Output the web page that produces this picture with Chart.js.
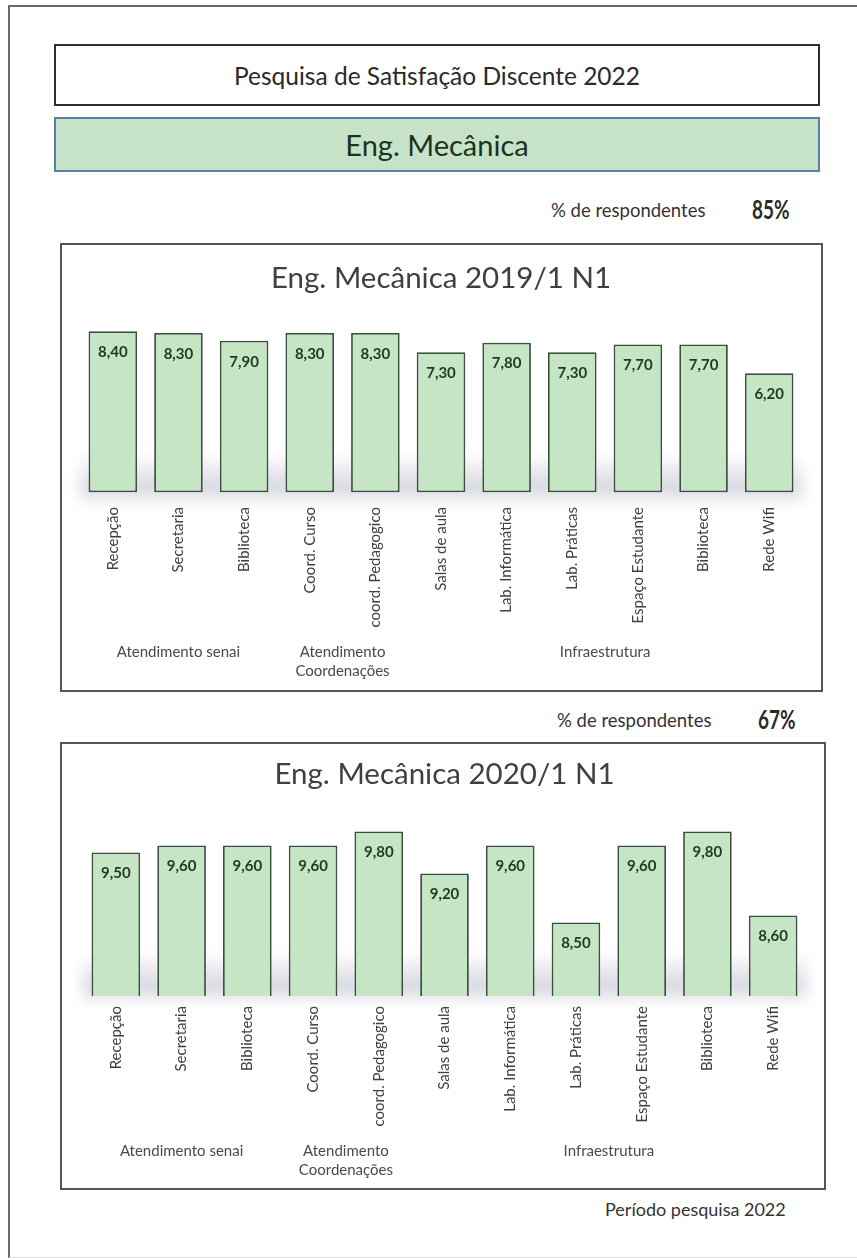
<!DOCTYPE html>
<html lang="pt-BR">
<head>
<meta charset="utf-8">
<title>Pesquisa de Satisfação Discente 2022</title>
<script src="https://cdn.jsdelivr.net/npm/chart.js@4.4.1/dist/chart.umd.min.js"></script>
<style>
  html, body { margin: 0; padding: 0; background: #fff; }
  body {
    width: 857px; height: 1260px; position: relative; overflow: hidden;
    font-family: Lato, "Open Sans", sans-serif; color: #333;
  }
  .page {
    position: absolute; left: 8px; top: 5px; width: 900px; height: 1250px;
    border-left: 2px solid #6a6a6a; border-top: 2px solid #6a6a6a;
    border-bottom: 1px solid #e4e4e4;
  }
  .box { position: absolute; box-sizing: border-box; display: flex; align-items: center; justify-content: center; }
  #head { left: 54px; top: 44px; width: 766px; height: 62px; border: 2px solid #2e2e2e; font-size: 24.5px; color: #2a2a2a; }
  #course { left: 54px; top: 117px; width: 766px; height: 55px; border: 2px solid #5d7fa6; background: #c6e3c9; font-size: 29px; color: #1d331d; }
  .resp { position: absolute; font-size: 18.5px; color: #333; line-height: 20px; }
  .pct {
    position: absolute; font-size: 27px; font-weight: bold; color: #2a2a2a; line-height: 28px;
    transform: scaleX(0.7); transform-origin: left center;
  }
  .chartbox { position: absolute; left: 60px; box-sizing: border-box; border: 2px solid #555; background: #fff; }
  .chartbox canvas { display: block; }
  #box1 { top: 243px; width: 763px; height: 449px; }
  #box2 { top: 742px; width: 766px; height: 448px; }
  #period { position: absolute; left: 605px; top: 1198px; font-size: 18px; color: #333; line-height: 22px; }
</style>
</head>
<body>
<div class="page"></div>
<div class="box" id="head">Pesquisa de Satisfação Discente 2022</div>
<div class="box" id="course">Eng. Mecânica</div>

<div class="resp" style="left:551px; top:200px;">% de respondentes</div>
<div class="pct" style="left:752px; top:195px;">85%</div>

<div class="chartbox" id="box1"><canvas id="chart2019" width="759" height="445"></canvas></div>

<div class="resp" style="left:557px; top:710px;">% de respondentes</div>
<div class="pct" style="left:758px; top:705px;">67%</div>

<div class="chartbox" id="box2"><canvas id="chart2020" width="762" height="444"></canvas></div>

<div id="period">Período pesquisa 2022</div>

<script>
const CATEGORIES = [
  "Recepção", "Secretaria", "Biblioteca", "Coord. Curso", "coord. Pedagogico",
  "Salas de aula", "Lab. Informática", "Lab. Práticas", "Espaço Estudante",
  "Biblioteca", "Rede Wifi"
];

const VALUES_2019 = [8.4, 8.3, 7.9, 8.3, 8.3, 7.3, 7.8, 7.3, 7.7, 7.7, 6.2];
const VALUES_2020 = [9.5, 9.6, 9.6, 9.6, 9.8, 9.2, 9.6, 8.5, 9.6, 9.8, 8.6];

// group captions under the category labels, placed at category index
const GROUP_LABELS = ["Atendimento senai", ["Atendimento", "Coordenações"], "Infraestrutura"];
const GROUP_POS = [1, 3.5, 7.5];

const FONT = "Lato, 'Open Sans', sans-serif";


// soft grey floor shadow behind the bars
const floorShadow = {
  id: "floorShadow",
  beforeDatasetsDraw(chart) {
    const { ctx, chartArea } = chart;
    const base = chartArea.bottom;
    ctx.save();
    ctx.filter = "blur(7px)";
    const g = ctx.createLinearGradient(0, base - 44, 0, base + 4);
    g.addColorStop(0, "rgba(150,150,175,0)");
    g.addColorStop(0.75, "rgba(150,150,175,0.4)");
    g.addColorStop(1, "rgba(150,150,175,0.15)");
    ctx.fillStyle = g;
    ctx.fillRect(chartArea.left, base - 44, chartArea.width, 48);
    ctx.restore();
  }
};

// value written inside the top of each bar
const barValues = {
  id: "barValues",
  afterDatasetsDraw(chart) {
    const { ctx } = chart;
    const ds = chart.data.datasets[0];
    ctx.save();
    ctx.font = "bold 15px " + FONT;
    ctx.fillStyle = "#1f3a1f";
    ctx.textAlign = "center";
    ctx.textBaseline = "middle";
    chart.getDatasetMeta(0).data.forEach((bar, i) => {
      ctx.fillText(ds.data[i].toFixed(2).replace(".", ","), bar.x, bar.y + 21);
    });
    ctx.restore();
  }
};


function makeChart(id, title, values, opt) {
  return new Chart(document.getElementById(id), {
    type: "bar",
    data: {
      labels: CATEGORIES,
      datasets: [{
        data: values,
        backgroundColor: "#c6e5c4",
        borderColor: "#3a4f3c",
        borderWidth: 1.8,
        borderSkipped: false,
        categoryPercentage: 1,
        barPercentage: 0.74
      }]
    },
    options: {
      responsive: false,
      animation: false,
      events: [],
      layout: { padding: { left: opt.padLeft, right: opt.padRight, top: 0, bottom: 0 } },
      plugins: {
        legend: { display: false },
        tooltip: { enabled: false },
        title: {
          display: true,
          text: title,
          color: "#404040",
          font: { family: FONT, size: 29.5, weight: "normal", lineHeight: 1.1 },
          padding: { top: opt.titleTop, bottom: opt.titleBottom }
        }
      },
      scales: {
        y: { display: false, min: opt.yMin, max: opt.yMax },
        x: {
          weight: 1,
          grid: { display: false, drawTicks: false },
          border: { display: false },
          afterFit: axis => { axis.height = 140; },
          ticks: {
            autoSkip: false,
            maxRotation: 90,
            minRotation: 90,
            padding: 10,
            color: "#404040",
            font: { family: FONT, size: 15 }
          }
        },
        xg: {
          type: "linear",
          position: "bottom",
          weight: 2,
          offset: false,
          min: -0.5,
          max: 10.5,
          grid: { display: false, drawTicks: false },
          border: { display: false },
          afterBuildTicks: axis => { axis.ticks = GROUP_POS.map(v => ({ value: v })); },
          afterFit: axis => { axis.height = opt.groupHeight; },
          ticks: {
            autoSkip: false,
            maxRotation: 0,
            minRotation: 0,
            padding: 6,
            color: "#4a4a4a",
            font: { family: FONT, size: 15, lineHeight: 1.25 },
            callback: (v, i) => GROUP_LABELS[i]
          }
        }
      }
    },
    plugins: [floorShadow, barValues]
  });
}

makeChart("chart2019", "Eng. Mecânica 2019/1 N1", VALUES_2019, {
  padLeft: 18, padRight: 19, titleTop: 17, titleBottom: 6, yMin: -0.25, yMax: 10, groupHeight: 53
});

makeChart("chart2020", "Eng. Mecânica 2020/1 N1", VALUES_2020, {
  padLeft: 21, padRight: 18, titleTop: 14, titleBottom: 27, yMin: 7.45, yMax: 10, groupHeight: 52
});
</script>
</body>
</html>
